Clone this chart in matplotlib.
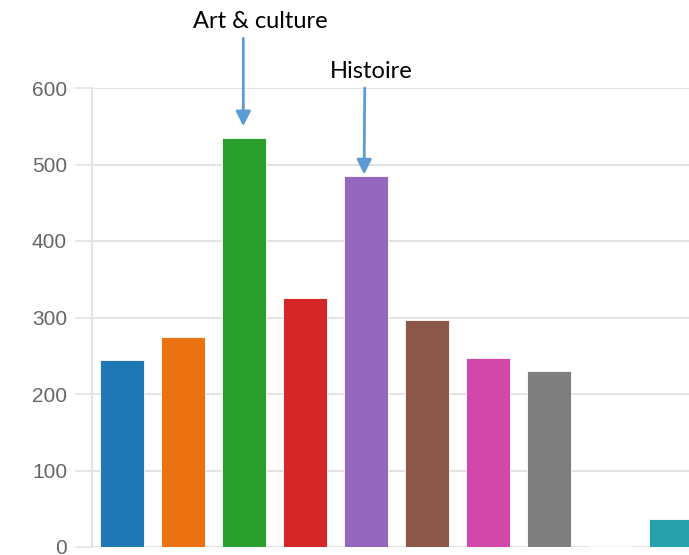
import matplotlib
matplotlib.use("Agg")
import matplotlib.pyplot as plt

categories = ["c1", "c2", "Art & culture", "c4", "Histoire", "c6", "c7", "c8", "c9", "c10"]
values = [244, 274, 535, 325, 485, 297, 247, 230, 1, 36]
colors = ["#1f77b4", "#ec7211", "#2ca02c", "#d62728", "#9467bd",
          "#8c564b", "#d147aa", "#7f7f7f", "#bcbd22", "#27a2ab"]
yticks = [0, 100, 200, 300, 400, 500, 600]

W, H = 689, 555
fig = plt.figure(figsize=(W / 100, H / 100), dpi=100)
ax = fig.add_axes([92 / W, (H - 547) / H, (700 - 92) / W, (547 - 88) / H])

x = list(range(len(values)))
ax.bar(x, values, width=44 / 61, color=colors, edgecolor="white", linewidth=0.6, zorder=3)

ax.set_xlim(-0.49, (700 - 122) / 61)
ax.set_ylim(0, 600)
ax.set_yticks(yticks)
ax.set_yticklabels([str(v) for v in yticks], fontfamily="Liberation Sans", fontsize=15, color="#666666")
ax.tick_params(axis="y", length=12, width=1.2, color="#e3e3e3", pad=6)
ax.set_xticks([])
ax.grid(axis="y", color="#e3e3e3", linewidth=1.4, zorder=0)
for s in ["top", "right", "bottom"]:
    ax.spines[s].set_visible(False)
ax.spines["left"].set_color("#e3e3e3")
ax.spines["left"].set_linewidth(1.4)

arrow_color = "#5b9bd5"
ann_font = dict(fontfamily="Lato", fontsize=17, color="black", ha="center", va="baseline")

# Art & culture
ax.text(2.27, 678, "Art & culture", clip_on=False, **ann_font)
ax.annotate("", xy=(1.99, 550), xytext=(1.99, 665), xycoords="data", textcoords="data",
            arrowprops=dict(arrowstyle="-|>", color=arrow_color, lw=2,
                            mutation_scale=22, shrinkA=0, shrinkB=0), annotation_clip=False)
# Histoire
ax.text(4.095, 613, "Histoire", clip_on=False, **ann_font)
ax.annotate("", xy=(3.97, 487), xytext=(3.98, 600), xycoords="data", textcoords="data",
            arrowprops=dict(arrowstyle="-|>", color=arrow_color, lw=2,
                            mutation_scale=22, shrinkA=0, shrinkB=0), annotation_clip=False)

fig.savefig("out.png", dpi=100)
